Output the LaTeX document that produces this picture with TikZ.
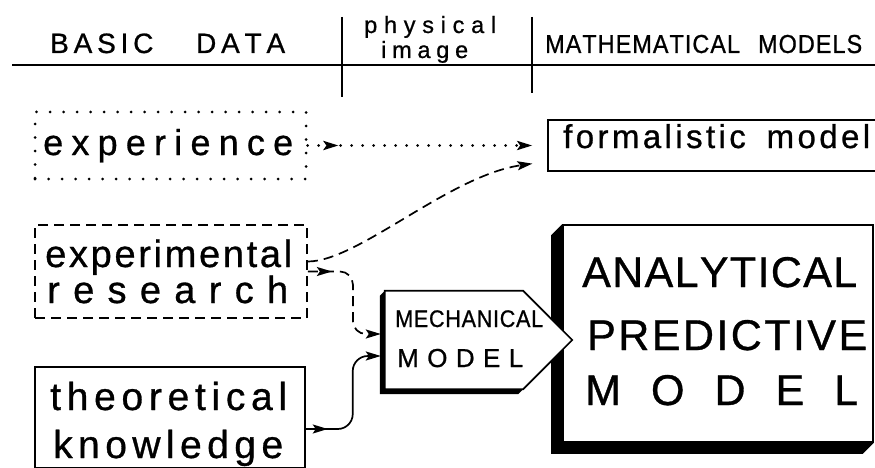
\documentclass[tikz,border=0pt]{standalone}
\usepackage{fontspec}
\setmainfont[FakeBold=0.8]{Liberation Sans}
\newfontfamily\condfont[FakeStretch=0.9,FakeBold=0.8]{Liberation Sans}
\usetikzlibrary{arrows.meta,decorations.markings,calc}
\makeatletter
\newcommand\spreadtxt[2]{\makebox[#1][s]{\let\st@sep\relax\@tfor\st@c:=#2\do{\st@sep\st@c\let\st@sep\hfill}}}
\makeatother
\newcommand\fs[1]{\fontsize{#1}{#1}\selectfont}
\begin{document}
\begin{tikzpicture}[x=1pt,y=-1pt,
  >={Stealth[length=15pt,width=9pt,inset=3pt]},
  box/.style={draw,line width=1.5pt,inner sep=0pt},
  dotbox/.style={box,line width=3pt,line cap=round,dash pattern=on 0pt off 13.5pt},
  dashbox/.style={box,line width=1.8pt,dash pattern=on 10pt off 6pt},
  lbl/.style={anchor=base west,inner sep=0pt},
  conn/.style={line width=1.7pt},
  dotconn/.style={conn,line width=3pt,line cap=round,dash pattern=on 0pt off 11pt},
  dashconn/.style={conn,dash pattern=on 10pt off 6pt},
  startmark/.style={postaction={decorate},decoration={markings,mark=at position #1 with {\arrow{>}}}}]
\useasboundingbox (0,0) rectangle (875,468);

% header
\draw[line width=2.6pt] (12,65) -- (875,65);
\draw[line width=2.2pt] (342,17) -- (342,97);
\draw[line width=2.2pt] (532,17) -- (532,93);
\node[lbl] (hbasic) at (50,53) {\fs{28}\spreadtxt{235pt}{BASIC{\hspace*{33pt}}DATA}};
\node[lbl] (hphys) at (364,33) {\fs{23.5}\spreadtxt{132pt}{physical}};
\node[lbl] (himage) at (381,58) {\fs{23.5}\spreadtxt{87pt}{image}};
\node[lbl] (hmath) at (545,53) {\condfont\fs{26}\spreadtxt{317pt}{MATHEMATICAL{\hspace*{16pt}}MODELS}};

% basic data boxes
\node[dotbox,minimum width=271pt,minimum height=67pt] (exp) at (170.5,145.5) {};
\node[dashbox,minimum width=272pt,minimum height=93pt] (expr) at (171,271.5) {};
\node[box,minimum width=270pt,minimum height=101pt] (theo) at (170,417.5) {};
\node[lbl] (t1) at (43,155) {\fs{36}\spreadtxt{250pt}{experience}};
\node[lbl] (t2) at (45,267) {\fs{38}\spreadtxt{247pt}{experimental}};
\node[lbl] (t3) at (47,303) {\fs{38}\spreadtxt{241pt}{research}};
\node[lbl] (t4) at (50,410) {\fs{39}\spreadtxt{237pt}{theoretical}};
\node[lbl] (t5) at (53,458) {\fs{39}\spreadtxt{230pt}{knowledge}};

% formalistic model
\node[box,minimum width=337pt,minimum height=51pt] (form) at (716.5,145.5) {};
\node[lbl] (t6) at (563,148) {\fs{33}\spreadtxt{307pt}{formalistic{\hspace*{14pt}}model}};

% mechanical model anchor node
\node[inner sep=0pt,minimum width=138pt,minimum height=98pt] (mech) at (454,340) {};

% analytical predictive model with extruded shadow
\node[box,fill=white,line width=1.7pt,minimum width=310pt,minimum height=217pt] (ana) at (718,333.5) {};
\fill (ana.north west) -- ++(-11,11) -- ($(ana.south west)+(-11,11)$) -- ($(ana.south east)+(-11,11)$)
  -- (ana.south east) -- (ana.south west) -- cycle;
\node[lbl] (a1) at (582,287) {\fs{43}\spreadtxt{275pt}{ANALYTICAL}};
\node[lbl] (a2) at (587,350) {\fs{43}\spreadtxt{280pt}{PREDICTIVE}};
\node[lbl] (a3) at (585,405) {\fs{43}\spreadtxt{273pt}{MODEL}};

% mechanical model pentagon with shadow
\fill (mech.north west) -- ++(-5,5) -- ($(mech.south west)+(-5,5)$) -- ($(mech.south east)+(-5,5)$)
  -- (mech.south east) -- (mech.south west) -- cycle;
\filldraw[fill=white,line width=1.7pt,line join=miter] (mech.north west) -- (mech.north east)
  -- ($(mech.east)+(49,0)$) -- (mech.south east) -- (mech.south west) -- cycle;
\node[lbl] (m1) at (395,327) {\condfont\fs{24}\spreadtxt{148pt}{MECHANICAL}};
\node[lbl] (m2) at (397,367) {\fs{26}\spreadtxt{126pt}{MODEL}};

% connectors
\draw[dotconn,->,shorten >=15pt,startmark=31pt] (exp.east) -- (form.west);
\draw[dashconn,->,shorten >=15pt] ([yshift=10pt]expr.east) .. controls +(50,0) and +(-98,14) .. ([yshift=-16pt]form.west);
\draw[dashconn,->,rounded corners=13pt,shorten >=4pt,startmark=24pt] (expr.east) -- ++(45,0) |- ([yshift=6pt]mech.west);
\draw[conn,->,rounded corners=15pt,shorten >=4pt,startmark=22pt] ([yshift=-11.5pt]theo.east) -- ++(47,0) |- ([yshift=-16pt]mech.west);
\end{tikzpicture}
\end{document}
